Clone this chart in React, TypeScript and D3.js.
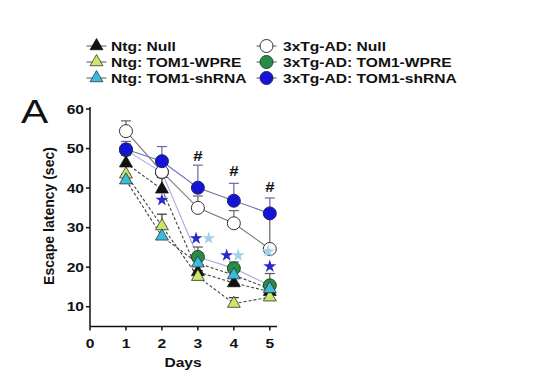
import React from "react";
import * as d3 from "d3";

const days = [1, 2, 3, 4, 5];
const xTicks = [0, 1, 2, 3, 4, 5];
const yTicks = [10, 20, 30, 40, 50, 60];

const ntgNull = [46.3, 39.7, 18.8, 16.0, 13.8];
const ntgNullErr = [2.0, 3.0, 1.5, 1.5, 1.5];
const ntgWpre = [43.5, 30.4, 17.6, 10.8, 12.4];
const ntgWpreErr = [2.0, 3.0, 1.5, 1.5, 1.0];
const ntgSh = [42.0, 27.8, 21.0, 18.0, 14.5];
const ntgShErr = [1.5, 2.5, 2.0, 1.5, 1.5];
const tgNull = [54.4, 44.1, 35.0, 31.1, 24.6];
const tgNullErr = [2.6, 3.0, 3.0, 3.2, 8.0];
const tgWpre = [49.6, 44.0, 22.6, 19.7, 15.4];
const tgWpreErr = [1.5, 2.0, 2.5, 1.6, 3.0];
const tgSh = [49.8, 46.8, 40.1, 36.8, 33.6];
const tgShErr = [2.0, 3.7, 5.7, 4.4, 3.9];

const legendLabels = [
  "Ntg: Null",
  "Ntg: TOM1-WPRE",
  "Ntg: TOM1-shRNA",
  "3xTg-AD: Null",
  "3xTg-AD: TOM1-WPRE",
  "3xTg-AD: TOM1-shRNA",
];

// significance markers: [day, value, kind]
const stars: [number, number, string][] = [
  [2, 37.0, "dark"],
  [2.95, 27.3, "dark"],
  [3.3, 27.3, "light"],
  [3.8, 23.0, "dark"],
  [4.12, 23.0, "light"],
  [5.0, 20.2, "dark"],
  [4.95, 24.0, "light"],
];
const hashes: [number, number][] = [
  [3, 48.2],
  [4, 44.2],
  [5, 40.2],
];

type Series = {
  vals: number[];
  err: number[];
  shape: "tri" | "circle";
  fill: string;
  stroke: string;
  line: string;
  dash: string | null;
  errColor: string;
};

const ntgSeries: Series[] = [
  { vals: ntgNull, err: ntgNullErr, shape: "tri", fill: "#111111", stroke: "#111", line: "#444", dash: "3,2", errColor: "#333" },
  { vals: ntgWpre, err: ntgWpreErr, shape: "tri", fill: "#c9e86a", stroke: "#333", line: "#444", dash: "3,2", errColor: "#333" },
  { vals: ntgSh, err: ntgShErr, shape: "tri", fill: "#38bcdc", stroke: "#333", line: "#444", dash: "3,2", errColor: "#333" },
];
const tgSeries: Series[] = [
  { vals: tgNull, err: tgNullErr, shape: "circle", fill: "#ffffff", stroke: "#333", line: "#777", dash: null, errColor: "#666" },
  { vals: tgWpre, err: tgWpreErr, shape: "circle", fill: "#2c8a48", stroke: "#1a4a2a", line: "#a8a8dc", dash: null, errColor: "#555" },
  { vals: tgSh, err: tgShErr, shape: "circle", fill: "#1414d6", stroke: "#222266", line: "#7070b0", dash: null, errColor: "#6a6a9a" },
];

const W = 550;
const H = 379;
const SX = 1.2;
const FONT = "'Liberation Sans', Arial, sans-serif";

function Txt(props: { x: number; y: number; size: number; anchor?: string; weight?: string; children: React.ReactNode }) {
  const { x, y, size, anchor = "start", weight = "bold", children } = props;
  return (
    <text
      transform={`translate(${x},${y}) scale(${SX},1)`}
      fontSize={size}
      fontFamily={FONT}
      fontWeight={weight}
      textAnchor={anchor}
      fill="#111"
    >
      {children}
    </text>
  );
}

export default function App() {
  const x = d3.scaleLinear().domain([0, 5.2]).range([90, 277]);
  const y = d3.scaleLinear().domain([5, 60]).range([326.5, 109]);
  const tri = d3.symbol().type(d3.symbolTriangle).size(72)()!;
  const star = d3.symbol().type(d3.symbolStar).size(52)()!;
  const lineGen = d3
    .line<number>()
    .x((_, i) => x(days[i]))
    .y((v) => y(v));

  const drawOrder: Series[] = [tgSeries[1], ...ntgSeries, tgSeries[0], tgSeries[2]];

  const marker = (s: Series, cx: number, cy: number, key: string) =>
    s.shape === "tri" ? (
      <path key={key} d={tri} transform={`translate(${cx},${cy})`} fill={s.fill} stroke={s.stroke} strokeWidth={0.8} />
    ) : (
      <circle key={key} cx={cx} cy={cy} r={6.5} fill={s.fill} stroke={s.stroke} strokeWidth={1} />
    );

  const legendItems = [...ntgSeries, ...tgSeries];

  return (
    <svg width={W} height={H} style={{ position: "absolute", left: 0, top: 0, background: "#fff" }}>
      <rect width={W} height={H} fill="#fff" />
      {/* Legend */}
      {legendItems.map((s, i) => {
        const col = Math.floor(i / 3);
        const row = i % 3;
        const mx = col === 0 ? 96.5 : 266.5;
        const tx = col === 0 ? 111 : 283;
        const by = 50.5 + row * 16;
        const cy = by - 4.5;
        return (
          <g key={"lg" + i}>
            <line x1={mx - 10} x2={mx + 10} y1={cy} y2={cy} stroke="#555" strokeWidth={1} />
            {marker(s, mx, cy, "lm" + i)}
            <Txt x={tx} y={by} size={13}>
              {legendLabels[i]}
            </Txt>
          </g>
        );
      })}

      {/* Panel letter */}
      <Txt x={21} y={123} size={34} weight="normal">
        A
      </Txt>

      {/* Axes */}
      <line x1={x(0)} x2={x(0)} y1={y(60) - 2} y2={y(5)} stroke="#111" strokeWidth={1.5} />
      <line x1={x(0)} x2={x(5.2)} y1={y(5)} y2={y(5)} stroke="#111" strokeWidth={1.5} />
      {yTicks.map((t) => (
        <g key={"yt" + t}>
          <line x1={x(0) - 4} x2={x(0)} y1={y(t)} y2={y(t)} stroke="#111" strokeWidth={1.5} />
          <Txt x={x(0) - 6} y={y(t) + 4.7} size={13} anchor="end">
            {t}
          </Txt>
        </g>
      ))}
      {xTicks.map((t) => (
        <g key={"xt" + t}>
          <line x1={x(t)} x2={x(t)} y1={y(5)} y2={y(5) + 4} stroke="#111" strokeWidth={1.5} />
          <Txt x={x(t)} y={348} size={13} anchor="middle">
            {t}
          </Txt>
        </g>
      ))}
      <Txt x={183} y={366.5} size={13} anchor="middle">
        Days
      </Txt>
      <text
        transform={`translate(54,216) rotate(-90)`}
        fontSize={14}
        fontFamily={FONT}
        fontWeight="bold"
        textAnchor="middle"
        fill="#111"
      >
        Escape latency (sec)
      </text>

      {/* Lines */}
      {drawOrder.map((s, i) => (
        <path
          key={"ln" + i}
          d={lineGen(s.vals)!}
          fill="none"
          stroke={s.line}
          strokeWidth={1.1}
          strokeDasharray={s.dash ?? undefined}
        />
      ))}

      {/* Error bars */}
      {drawOrder.map((s, i) =>
        s.vals.map((v, j) => {
          const cx = x(days[j]);
          const y0 = y(v);
          const y1 = y(v + s.err[j]);
          return (
            <g key={"eb" + i + "-" + j}>
              <line x1={cx} x2={cx} y1={y0} y2={y1} stroke={s.errColor} strokeWidth={1.2} />
              <line x1={cx - 5} x2={cx + 5} y1={y1} y2={y1} stroke={s.errColor} strokeWidth={1.2} />
            </g>
          );
        })
      )}

      {/* Markers */}
      {drawOrder.map((s, i) => s.vals.map((v, j) => marker(s, x(days[j]), y(v), "mk" + i + "-" + j)))}

      {/* Significance */}
      {stars.map(([d, v, k], i) => (
        <path
          key={"st" + i}
          d={star}
          transform={`translate(${x(d)},${y(v)})`}
          fill={k === "dark" ? "#2a2ac8" : "#9fd0ee"}
        />
      ))}
      {hashes.map(([d, v], i) => (
        <Txt key={"h" + i} x={x(d)} y={y(v) + 5} size={14} anchor="middle">
          #
        </Txt>
      ))}
    </svg>
  );
}
